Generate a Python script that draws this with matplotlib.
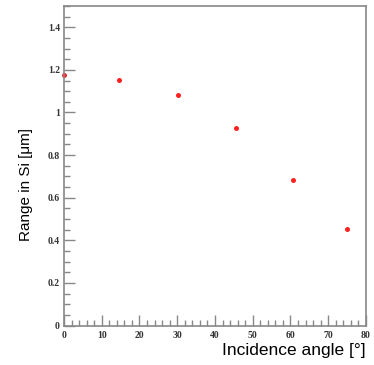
import matplotlib
matplotlib.use("Agg")
import matplotlib.pyplot as plt
from matplotlib import font_manager
from matplotlib.ticker import MultipleLocator, FuncFormatter

# incidence angle [deg] vs range in Si [um]
angle = [0.1, 14.6, 30.2, 45.5, 60.7, 75.1]
range_si = [1.175, 1.152, 1.081, 0.928, 0.685, 0.454]

names = {f.name for f in font_manager.fontManager.ttflist}
narrow = "Liberation Sans Narrow" in names
print("narrow available:", narrow)

fig = plt.figure(figsize=(3.74, 3.65), dpi=100)
ax = fig.add_axes([0.1711, 0.1082, 0.8075, 0.8754])

ax.plot(angle, range_si, "o", color="#ff2020", ms=3.6, mec="none", clip_on=False)

ax.set_xlim(0, 80)
ax.set_ylim(0, 1.5)
ax.xaxis.set_major_locator(MultipleLocator(10))
ax.xaxis.set_minor_locator(MultipleLocator(2))
ax.yaxis.set_major_locator(MultipleLocator(0.2))
ax.yaxis.set_minor_locator(MultipleLocator(0.05))


def fmt(v, pos):
    return f"{v:.1f}".rstrip("0").rstrip(".")


ax.xaxis.set_major_formatter(FuncFormatter(fmt))
ax.yaxis.set_major_formatter(FuncFormatter(fmt))

gray = "#888888"
for sp in ax.spines.values():
    sp.set_color(gray)
    sp.set_linewidth(1.2)

ax.tick_params(which="both", direction="in", color=gray, top=False, right=False,
               labelsize=7)
ax.tick_params(which="major", length=8, width=1)
ax.tick_params(which="minor", length=4, width=1)
ax.tick_params(axis="x", pad=4)
ax.tick_params(axis="y", pad=3)
for lab in ax.get_xticklabels() + ax.get_yticklabels():
    lab.set_fontfamily("Liberation Serif")
    lab.set_fontweight("bold")
    lab.set_color("#333333")

ax.set_xlabel("Incidence angle [°]", fontsize=12.5, family="Liberation Sans",
              loc="right", labelpad=2)
if narrow:
    ax.set_ylabel("Range in Si [μm]", fontsize=12.5, family="Liberation Sans Narrow")
else:
    ax.set_ylabel("Range in Si [μm]", fontsize=11, family="Liberation Sans")
ax.yaxis.set_label_coords(-0.104, 0.44)

fig.savefig("out.png", dpi=100, facecolor="white")
